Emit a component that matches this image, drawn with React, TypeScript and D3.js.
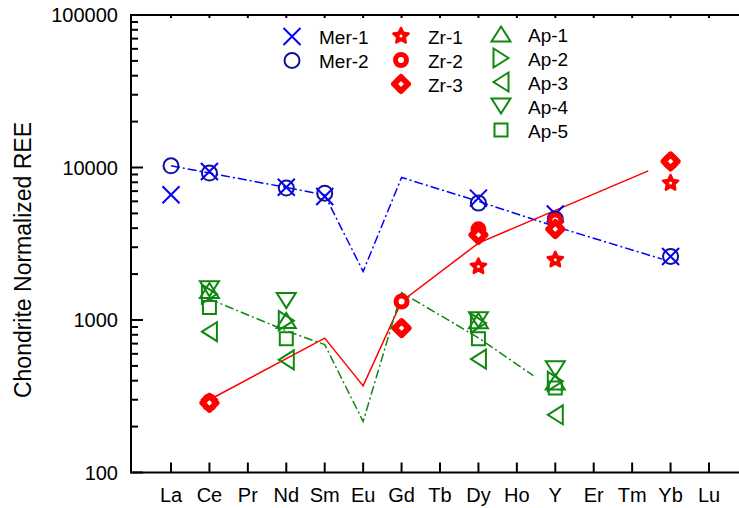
import { useEffect, useRef } from "react"
import * as d3 from "d3"

// x categories (element order as on the plot)
const elements = ["La", "Ce", "Pr", "Nd", "Sm", "Eu", "Gd", "Tb", "Dy", "Ho", "Y", "Er", "Tm", "Yb", "Lu"]
const yTicks = [100, 1000, 10000, 100000]

// chondrite normalized values, null = no point
const mer1 = [6620, 9420, null, 7430, 6450, null, null, null, 6300, null, 4950, null, null, 2610, null]
const mer2 = [10260, 9190, null, 7330, 6790, null, null, null, 5840, null, 4600, null, null, 2610, null]
const zr1 = [null, 290, null, null, null, null, null, null, 2243, null, 2483, null, null, 7900, null]
const zr2 = [null, 292, null, null, null, null, 1322, null, 3930, null, 4500, null, null, 10950, null]
const zr3 = [null, 286, null, null, null, null, 885, null, 3610, null, 3950, null, null, 10950, null]
const ap1 = [null, 1560, null, 993, null, null, null, null, 988, null, 392, null, null, null, null]
const ap2 = [null, 1480, null, 990, null, null, null, null, 954, null, 396, null, null, null, null]
const ap3 = [null, 838, null, 548, null, null, null, null, 554, null, 239, null, null, null, null]
const ap4 = [null, 1600, null, 1340, null, null, null, null, 1003, null, 479, null, null, null, null]
const ap5 = [null, 1210, null, 753, null, null, null, null, 753, null, 358, null, null, null, null]

// trend lines, x is the element index (lines stop short of the last element)
const merLineX = [0, 1, 3, 4, 5, 6, 8, 10, 12.78]
const merLineY = [10260, 9200, 7400, 6600, 2080, 8600, 6000, 4100, 2507]
const zrLineX = [1, 4, 5, 6, 8, 12.42]
const zrLineY = [300, 761, 370, 1322, 3193, 9510]
const apLineX = [1, 3, 4, 5, 6, 8, 9.43]
const apLineY = [1372, 849, 690, 216, 1514, 764, 431]

const BLUE = "#0000ff"
const NAVY = "#1010a0"
const RED = "#ff0000"
const GREEN = "#108810"
const FONT = "'Liberation Sans', Arial, Helvetica, sans-serif"

const series = [
  { name: "Mer-1", values: mer1, kind: "x", color: BLUE },
  { name: "Mer-2", values: mer2, kind: "o", color: NAVY },
  { name: "Ap-1", values: ap1, kind: "up", color: GREEN },
  { name: "Ap-2", values: ap2, kind: "right", color: GREEN },
  { name: "Ap-3", values: ap3, kind: "left", color: GREEN },
  { name: "Ap-4", values: ap4, kind: "down", color: GREEN },
  { name: "Ap-5", values: ap5, kind: "square", color: GREEN },
  { name: "Zr-1", values: zr1, kind: "star", color: RED },
  { name: "Zr-2", values: zr2, kind: "ring", color: RED },
  { name: "Zr-3", values: zr3, kind: "diamond", color: RED },
]

const legendCols = [
  { names: ["Mer-1", "Mer-2"], mx: 292, tx: 319, y0: 36.5 },
  { names: ["Zr-1", "Zr-2", "Zr-3"], mx: 401, tx: 428, y0: 36 },
  { names: ["Ap-1", "Ap-2", "Ap-3", "Ap-4", "Ap-5"], mx: 501, tx: 528, y0: 34 },
]

function starPath(R: number, r: number) {
  const pts: string[] = []
  for (let i = 0; i < 10; i++) {
    const a = -Math.PI / 2 + (i * Math.PI) / 5
    const rad = i % 2 === 0 ? R : r
    pts.push((rad * Math.cos(a)).toFixed(2) + "," + (rad * Math.sin(a)).toFixed(2))
  }
  return "M" + pts.join("L") + "Z"
}

function drawMarker(g: any, kind: string, cx: number, cy: number, color: string) {
  const m = g.append("g").attr("transform", `translate(${cx},${cy})`)
  const open = (d: string) =>
    m.append("path").attr("d", d).attr("fill", "none").attr("stroke", color).attr("stroke-width", 2)
  if (kind === "x") open("M-8.5,-8.5L8.5,8.5M-8.5,8.5L8.5,-8.5")
  else if (kind === "o") m.append("circle").attr("r", 7.5).attr("fill", "none").attr("stroke", color).attr("stroke-width", 2)
  else if (kind === "up") open("M0,-7.5L9.5,7.5L-9.5,7.5Z")
  else if (kind === "down") open("M0,7.5L9.5,-7.5L-9.5,-7.5Z")
  else if (kind === "right") open("M7.5,0L-7.5,-9.5L-7.5,9.5Z")
  else if (kind === "left") open("M-7.5,0L7.5,-9.5L7.5,9.5Z")
  else if (kind === "square") open("M-6.5,-6.5h13v13h-13Z")
  else if (kind === "ring")
    m.append("circle").attr("r", 5.5).attr("fill", "#fff").attr("stroke", color).attr("stroke-width", 5)
  else if (kind === "diamond")
    m.append("path").attr("d", "M0,-7L7,0L0,7L-7,0Z").attr("fill", "#fff").attr("stroke", color)
      .attr("stroke-width", 6).attr("stroke-linejoin", "round")
  else if (kind === "star") {
    m.append("path").attr("d", starPath(8, 3.9)).attr("fill", color).attr("stroke", color)
      .attr("stroke-width", 2.5).attr("stroke-linejoin", "round")
    m.append("circle").attr("r", 1.5).attr("fill", "#fff")
  }
}

const App = () => {
  const ref = useRef<SVGSVGElement>(null)

  useEffect(() => {
    const W = 739
    const H = 508
    const left = 131
    const top = 15
    const bottom = 472.5

    const svg = d3.select(ref.current)
    svg.selectAll("*").remove()

    const x = d3.scaleLinear().domain([0, 14]).range([171, 709])
    const y = d3.scaleLog().domain([100, 100000]).range([bottom, top])

    // lines
    const line = d3.line<[number, number]>().x((d) => x(d[0])).y((d) => y(d[1]))
    const lines = [
      { xs: merLineX, ys: merLineY, color: BLUE, dash: "9,3,2,3" },
      { xs: zrLineX, ys: zrLineY, color: RED, dash: null },
      { xs: apLineX, ys: apLineY, color: GREEN, dash: "9,3,2,3" },
    ]
    lines.forEach((l) => {
      svg.append("path")
        .attr("d", line(l.xs.map((v, i) => [v, l.ys[i]] as [number, number])))
        .attr("fill", "none")
        .attr("stroke", l.color)
        .attr("stroke-width", 1.5)
        .attr("stroke-dasharray", l.dash)
    })

    // markers
    const mg = svg.append("g")
    series.forEach((s) => {
      s.values.forEach((v, i) => {
        if (v == null) return
        drawMarker(mg, s.kind, x(i), y(v), s.color)
      })
    })

    // axes
    const ax = svg.append("g").attr("stroke", "#000").attr("stroke-width", 2)
    ax.append("line").attr("x1", left).attr("x2", left).attr("y1", top).attr("y2", bottom)
    ax.append("line").attr("x1", left - 1).attr("x2", W).attr("y1", bottom).attr("y2", bottom)
    ax.append("line").attr("x1", left - 1).attr("x2", W).attr("y1", top).attr("y2", top)

    const minor: number[] = []
    for (let d = 100; d < 100000; d *= 10) for (let k = 2; k <= 9; k++) minor.push(d * k)
    ax.selectAll(".minor").data(minor).enter().append("line")
      .attr("x1", left).attr("x2", left + 7).attr("y1", (d) => y(d)).attr("y2", (d) => y(d))
    ax.selectAll(".major").data(yTicks).enter().append("line")
      .attr("x1", left).attr("x2", left + 12).attr("y1", (d) => y(d)).attr("y2", (d) => y(d))
    ax.selectAll(".xt").data(elements).enter().append("line")
      .attr("x1", (_, i) => x(i)).attr("x2", (_, i) => x(i)).attr("y1", bottom).attr("y2", bottom - 10)
    ax.selectAll(".xtt").data(elements).enter().append("line")
      .attr("x1", (_, i) => x(i)).attr("x2", (_, i) => x(i)).attr("y1", top).attr("y2", top + 3)

    svg.selectAll(".ylab").data(yTicks).enter().append("text")
      .text((d) => d3.format("d")(d))
      .attr("x", left - 13).attr("y", (d) => y(d) + 7)
      .attr("text-anchor", "end").attr("font-family", FONT).attr("font-size", 20)

    svg.selectAll(".xlab").data(elements).enter().append("text")
      .text((d) => d)
      .attr("x", (_, i) => x(i)).attr("y", 501.5)
      .attr("text-anchor", "middle").attr("font-family", FONT).attr("font-size", 20)

    svg.append("text")
      .text("Chondrite Normalized REE")
      .attr("transform", "translate(31,260)rotate(-90)")
      .attr("text-anchor", "middle").attr("font-family", FONT).attr("font-size", 23)

    // legend
    const lg = svg.append("g")
    legendCols.forEach((c) => {
      c.names.forEach((n, i) => {
        const s = series.find((d) => d.name === n)!
        const cy = c.y0 + i * 24
        drawMarker(lg, s.kind, c.mx, cy, s.color)
        lg.append("text").text(n).attr("x", c.tx).attr("y", cy + 7.5)
          .attr("font-family", FONT).attr("font-size", 19)
      })
    })

    svg.attr("width", W).attr("height", H)
  }, [])

  return (
    <div>
      <style>{"body{margin:0}"}</style>
      <svg ref={ref} width={739} height={508} style={{ display: "block", background: "#fff" }} />
    </div>
  )
}

export default App
